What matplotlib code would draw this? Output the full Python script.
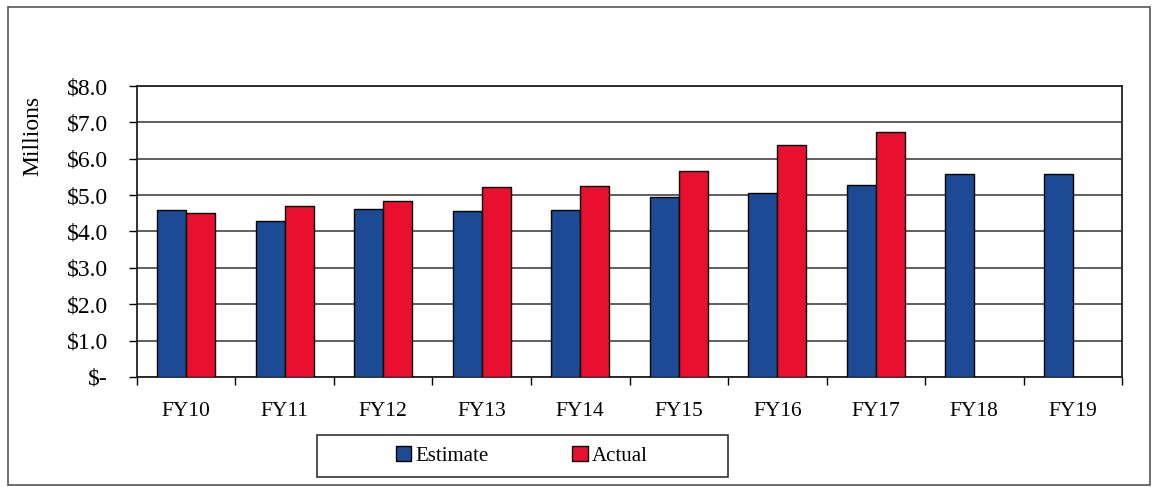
import matplotlib.pyplot as plt
import numpy as np
from matplotlib.patches import Rectangle

plt.rcParams.update(
    {
        "font.family": ["Liberation Serif", "DejaVu Serif"],
        "font.size": 14,
    }
)

years = ["FY10", "FY11", "FY12", "FY13", "FY14", "FY15", "FY16", "FY17", "FY18", "FY19"]
estimate = [4.59, 4.29, 4.63, 4.56, 4.59, 4.95, 5.07, 5.27, 5.57, 5.57]
actual = [4.50, 4.71, 4.83, 5.21, 5.25, 5.66, 6.37, 6.74, np.nan, np.nan]
y_ticks = [0, 1, 2, 3, 4, 5, 6, 7, 8]
y_labels = ["$-", "$1.0", "$2.0", "$3.0", "$4.0", "$5.0", "$6.0", "$7.0", "$8.0"]

fig = plt.figure(figsize=(11.54, 4.87), dpi=100)
ax = fig.add_axes([0.1187, 0.2259, 0.8536, 0.5975])

x = np.arange(len(years))
width = 0.295
ax.bar(x - width / 2, estimate, width=width, color="#1C4A94", edgecolor="black",
       linewidth=1.0, label="Estimate", zorder=3)
ax.bar(x + width / 2, actual, width=width, color="#E8102E", edgecolor="black",
       linewidth=1.0, label="Actual", zorder=3)

ax.set_xlim(-0.5, len(years) - 0.5)
ax.set_ylim(0, 8)
ax.set_yticks(y_ticks)
ax.set_yticklabels(y_labels, fontsize=17)
ax.set_xticks(x)
ax.set_xticklabels(years, fontsize=15.5)
ax.tick_params(axis="x", length=0, pad=18)
ax.tick_params(axis="y", length=6, width=1, direction="out", pad=15)
# tick marks between the year groups
ax.set_xticks(np.arange(-0.5, len(years)), minor=True)
ax.tick_params(axis="x", which="minor", length=6, width=1, direction="out")

ax.grid(axis="y", color="#444444", linewidth=1.2)
ax.set_axisbelow(True)
for s in ax.spines.values():
    s.set_linewidth(1.3)
    s.set_color("#222222")

ax.set_ylabel("Millions", fontsize=17)
ax.yaxis.set_label_coords(-0.095, 0.83)

# legend with a plain rectangular box underneath
leg = fig.legend(loc="center", bbox_to_anchor=(0.452, 0.0637), ncol=2, frameon=False,
                 handlelength=0.75, handleheight=0.75, handletextpad=0.2,
                 columnspacing=4.0, fontsize=15)
fig.patches.append(Rectangle((317 / 1154, 1 - 477 / 487), 411 / 1154, 42 / 487,
                             transform=fig.transFigure, fill=False,
                             edgecolor="#333333", linewidth=1.2))

# outer border around the whole chart
fig.patches.append(Rectangle((8 / 1154, 2 / 487), 1142 / 1154, 478 / 487,
                             transform=fig.transFigure, fill=False,
                             edgecolor="#555555", linewidth=1.2))

fig.savefig("out.png", dpi=100)
